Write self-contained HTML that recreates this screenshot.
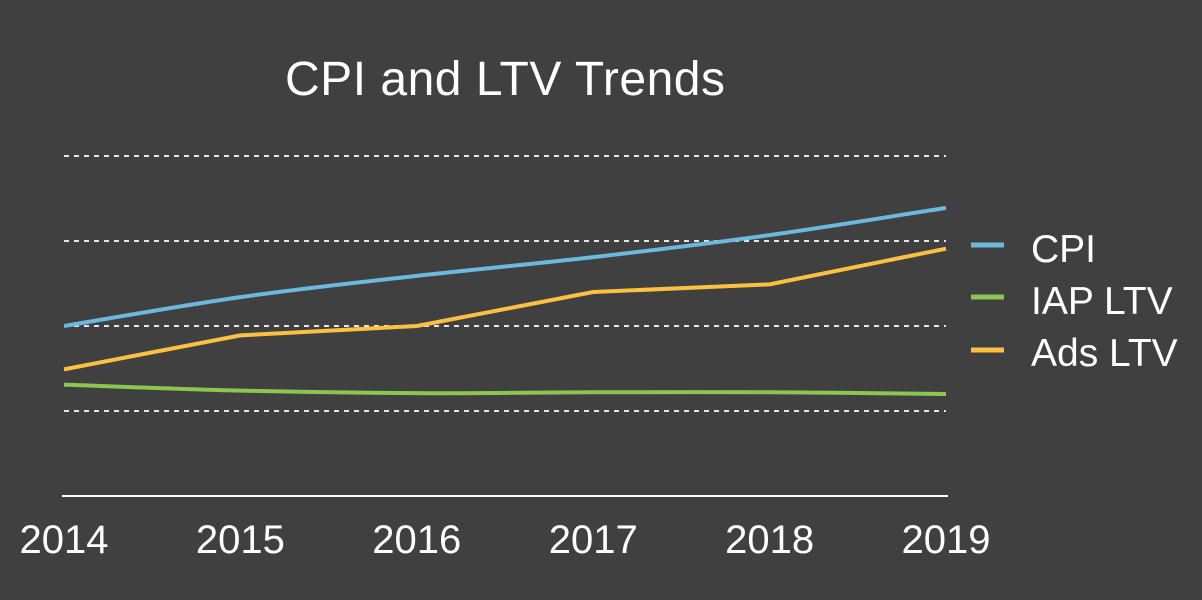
<!DOCTYPE html>
<html><head><meta charset="utf-8"><style>
html,body{margin:0;padding:0;background:#404040;}
svg{display:block;font-family:"Liberation Sans",sans-serif;}
</style></head><body>
<svg id="chart" width="1202" height="600">
<rect width="1202" height="600" fill="#404040"/>
<text x="505" y="95" fill="#fff" font-size="48" text-anchor="middle" textLength="440">CPI and LTV Trends</text>
<g id="grid"></g><g id="xt"></g><g id="series"></g>
<g>
<g><line x1="971" x2="1004" y1="245" y2="245" stroke="#6bb9dd" stroke-width="5"/><text x="1031" y="262" fill="#fff" font-size="39">CPI</text></g>
<g><line x1="971" x2="1004" y1="297" y2="297" stroke="#8cc552" stroke-width="5"/><text x="1031" y="314" fill="#fff" font-size="39">IAP LTV</text></g>
<g><line x1="971" x2="1004" y1="350" y2="350" stroke="#fcc140" stroke-width="5"/><text x="1031" y="366" fill="#fff" font-size="39">Ads LTV</text></g>
</g>
</svg>
<script>
const years = ["2014","2015","2016","2017","2018","2019"];
const cpi = [2.0, 2.34, 2.59, 2.81, 3.07, 3.39];
const iapLtv = [1.31, 1.24, 1.21, 1.22, 1.22, 1.2];
const adsLtv = [1.49, 1.89, 2.0, 2.4, 2.49, 2.91];
const gridValues = [1, 2, 3, 4];
const NS = "http://www.w3.org/2000/svg";
const x = i => 64 + i * (946 - 64) / (years.length - 1);
const y = v => 496 - v * 85;
function mk(tag, attrs, parent) { const e = document.createElementNS(NS, tag); for (const k in attrs) e.setAttribute(k, attrs[k]); parent.appendChild(e); return e; }
const grid = document.getElementById('grid');
gridValues.forEach(v => {
  const l = mk('line', {x1: 64, x2: 946, y1: y(v), y2: y(v), stroke: '#e6e6e6', 'stroke-width': 2, 'stroke-dasharray': '5,5'}, grid);
  
  
});
const ax = mk('line', {x1: 62, x2: 948, y1: y(0), y2: y(0), stroke: '#fff', 'stroke-width': 2}, grid);


const xt = document.getElementById('xt');
years.forEach((yr, i) => {
  const t = mk('text', {x: x(i), y: 553, fill: '#fff', 'font-size': 40, 'text-anchor': 'middle'}, xt);
  t.textContent = yr;
  
  
});
function smooth(vals) {
  const p = vals.map((v, i) => [x(i), y(v)]);
  let d = `M${p[0][0]},${p[0][1]}`;
  for (let i = 0; i < p.length - 1; i++) {
    const p0 = p[Math.max(i - 1, 0)], p1 = p[i], p2 = p[i + 1], p3 = p[Math.min(i + 2, p.length - 1)];
    d += ` C${p1[0] + (p2[0] - p0[0]) / 6},${p1[1] + (p2[1] - p0[1]) / 6} ${p2[0] - (p3[0] - p1[0]) / 6},${p2[1] - (p3[1] - p1[1]) / 6} ${p2[0]},${p2[1]}`;
  }
  return d;
}
function straight(vals) { return vals.map((v, i) => (i ? 'L' : 'M') + x(i) + ',' + y(v)).join(' '); }
const sg = document.getElementById('series');
const s1 = mk('path', {d: smooth(iapLtv), fill: 'none', stroke: '#8cc552', 'stroke-width': 4}, sg);


const s2 = mk('path', {d: straight(adsLtv), fill: 'none', stroke: '#fcc140', 'stroke-width': 4}, sg);


const s3 = mk('path', {d: smooth(cpi), fill: 'none', stroke: '#6bb9dd', 'stroke-width': 4}, sg);


</script>
</body></html>
